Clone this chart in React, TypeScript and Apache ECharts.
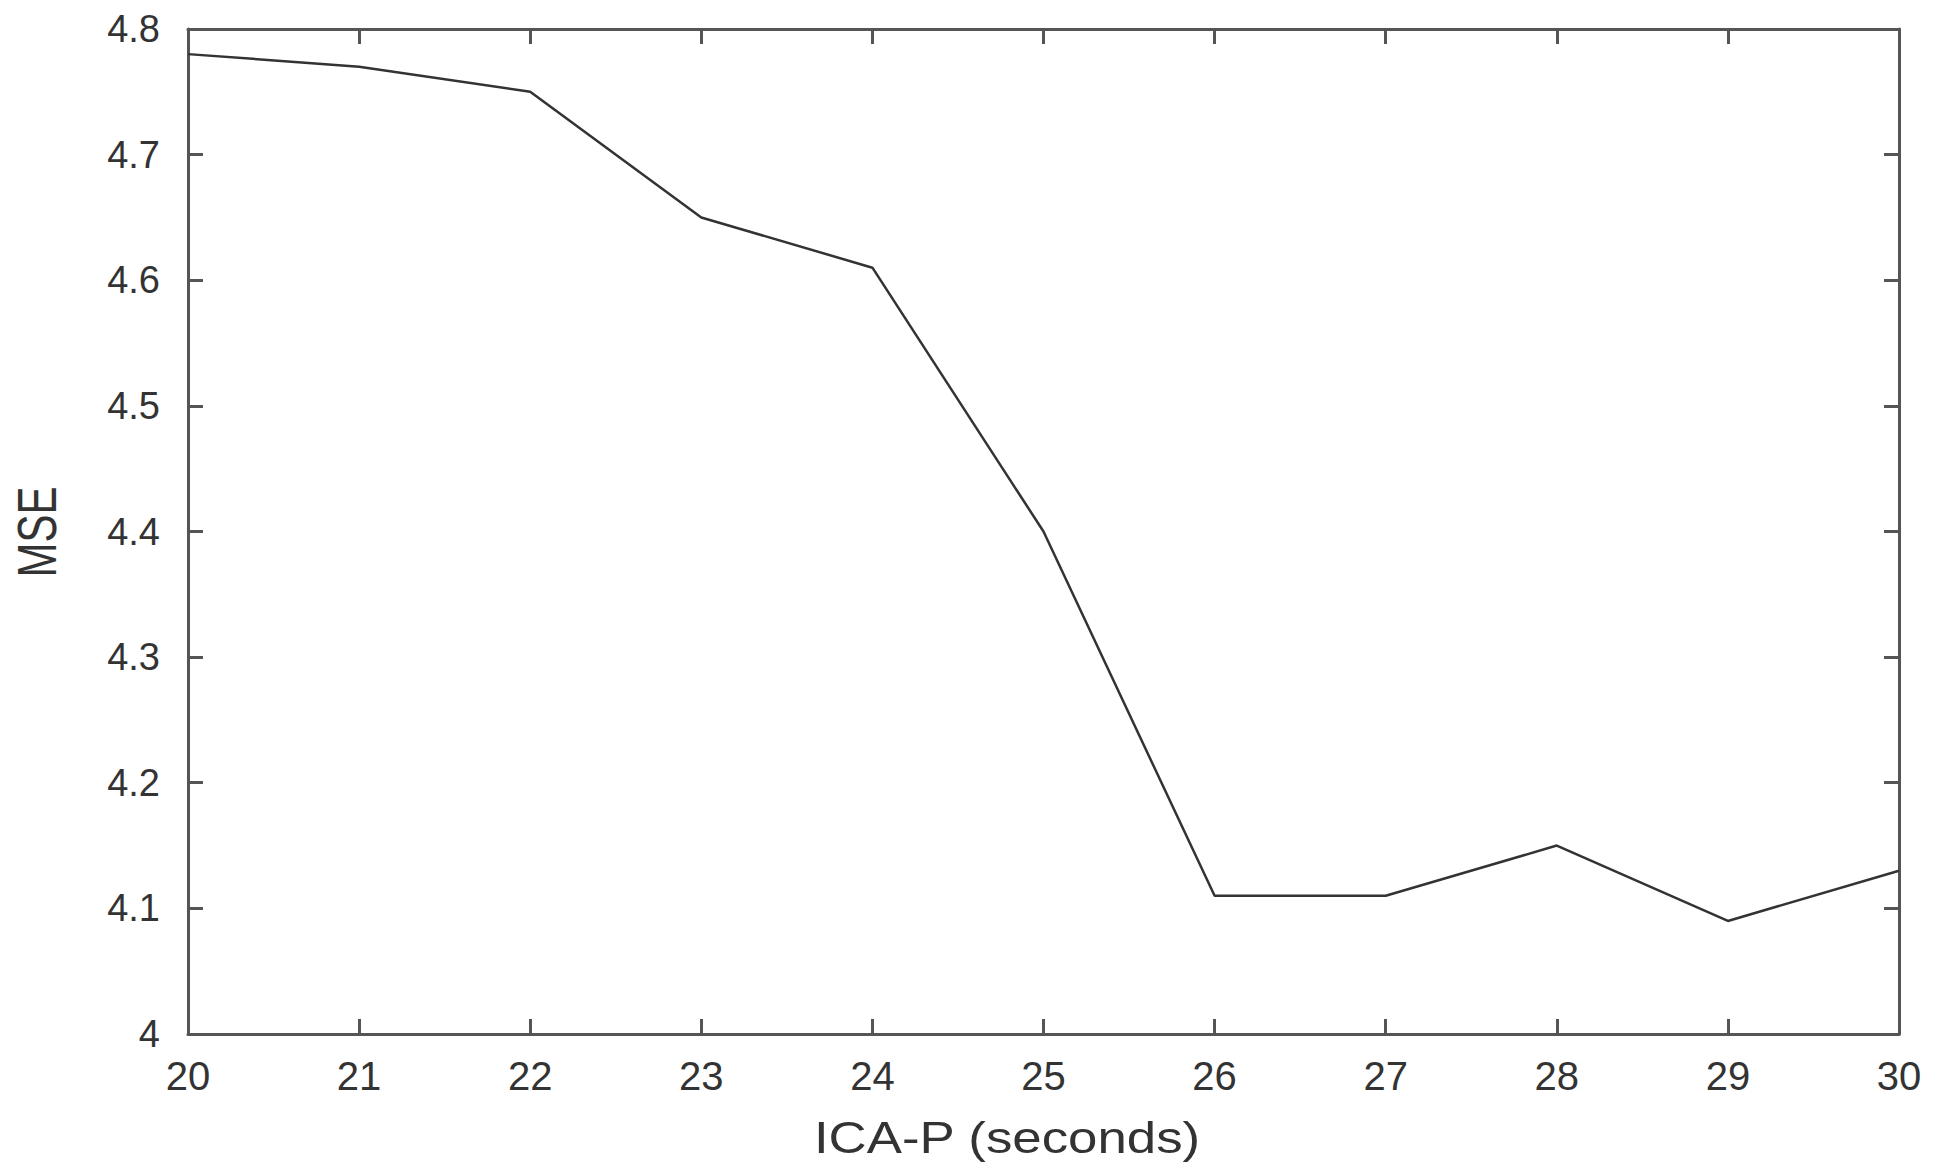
import React, { useEffect, useRef } from "react";
import * as echarts from "echarts";

const xValues = [20, 21, 22, 23, 24, 25, 26, 27, 28, 29, 30];
const mseValues = [4.78, 4.77, 4.75, 4.65, 4.61, 4.4, 4.11, 4.11, 4.15, 4.09, 4.13];
const yTicks = { min: 4, max: 4.8, interval: 0.1 };
const xTicks = { min: 20, max: 30, interval: 1 };
const xTitle = "ICA-P (seconds)";
const yTitle = "MSE";

export default function App() {
  const ref = useRef<HTMLDivElement>(null);
  useEffect(() => {
    document.body.style.margin = "0";
    const chart = echarts.init(ref.current!, null, { renderer: "svg" });
    const axisLine = { show: true, lineStyle: { color: "#555", width: 3 } };
    const axisTick = { show: true, inside: true, length: 15, lineStyle: { color: "#555", width: 3 } };
    const font = "Liberation Sans";
    chart.setOption({
      animation: false,
      backgroundColor: "#fff",
      grid: { left: 188, top: 29, right: 47, bottom: 136 },
      xAxis: [
        {
          type: "value",
          min: xTicks.min,
          max: xTicks.max,
          interval: xTicks.interval,
          axisLine,
          axisTick,
          splitLine: { show: false },
          axisLabel: { fontSize: 40, color: "#333", fontFamily: font, margin: 22 },
        },
        {
          type: "value",
          position: "top",
          min: xTicks.min,
          max: xTicks.max,
          interval: xTicks.interval,
          axisLine,
          axisTick,
          splitLine: { show: false },
          axisLabel: { show: false },
        },
      ],
      yAxis: [
        {
          type: "value",
          min: yTicks.min,
          max: yTicks.max,
          interval: yTicks.interval,
          axisLine,
          axisTick,
          splitLine: { show: false },
          axisLabel: {
            fontSize: 38,
            color: "#333",
            fontFamily: font,
            margin: 28,
            formatter: (v: number) => String(parseFloat(v.toFixed(1))),
          },
        },
        {
          type: "value",
          position: "right",
          min: yTicks.min,
          max: yTicks.max,
          interval: yTicks.interval,
          axisLine,
          axisTick,
          splitLine: { show: false },
          axisLabel: { show: false },
        },
      ],
      graphic: [
        {
          type: "text",
          x: 1007,
          y: 1138,
          scaleX: 1.2,
          style: {
            text: xTitle,
            fontSize: 44,
            fontFamily: font,
            fill: "#333",
            align: "center",
            verticalAlign: "middle",
          },
        },
        {
          type: "text",
          x: 37,
          y: 532,
          rotation: Math.PI / 2,
          scaleY: 1.3,
          style: {
            text: yTitle,
            fontSize: 42,
            fontFamily: font,
            fill: "#333",
            align: "center",
            verticalAlign: "middle",
          },
        },
      ],
      series: [
        {
          type: "line",
          data: xValues.map((x, i) => [x, mseValues[i]]),
          showSymbol: false,
          lineStyle: { color: "#333", width: 2.5 },
        },
      ],
    });
    return () => chart.dispose();
  }, []);
  return <div ref={ref} style={{ position: "absolute", left: 0, top: 0, width: 1946, height: 1170 }} />;
}
